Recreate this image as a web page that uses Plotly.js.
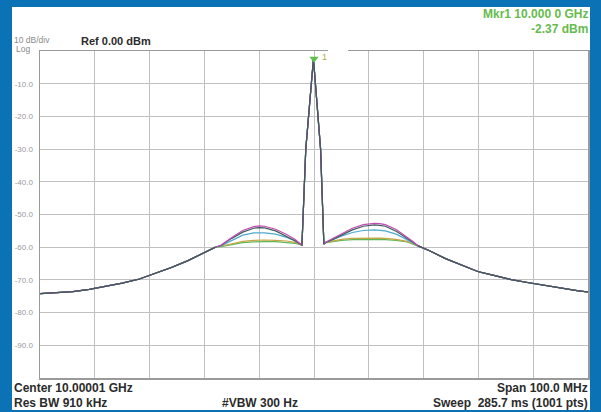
<!DOCTYPE html>
<html><head><meta charset="utf-8">
<script src="https://cdn.plot.ly/plotly-3.0.1.min.js"></script>
<style>html,body{margin:0;padding:0;background:#0b72b5;}</style>
</head><body><div id="chart" style="width:601px;height:412px;"></div>
<script>
// Frequency offsets from center (MHz)
const skirtLeftX  = [-50,-47,-44,-41,-38,-35,-32,-29,-26,-23,-20,-18];
const humpLeftX   = [-17,-15,-13,-11,-10,-9,-7,-5,-3.5,-2.5];
const peakX       = [-2.2,-1.5,-0.1,1.2,1.8];
const humpRightX  = [2.2,3.5,5,7,9,11,12,13,15,17,18];
const skirtRightX = [19,21,24,27,30,33,36,39,42,45,48,50];

// Levels (dBm)
const skirtLeftY  = [-74.2,-74.0,-73.6,-72.9,-72.0,-71.0,-69.8,-68.0,-66.2,-64.1,-61.6,-60.0];
const skirtRightY = [-59.6,-61.0,-63.5,-65.6,-67.5,-68.7,-69.9,-70.8,-71.7,-72.6,-73.3,-73.7];
const peakY       = [-59.4,-30.0,-2.37,-30.0,-59.0];

const grayLeft     = [-59.5,-57.3,-55.4,-54.2,-54.0,-54.1,-55.0,-56.6,-58.0,-59.1];
const magentaLeft  = [-59.4,-57.0,-54.9,-53.7,-53.5,-53.6,-54.5,-56.1,-57.6,-59.0];
const cyanLeft     = [-59.6,-57.9,-56.3,-55.6,-55.5,-55.6,-56.0,-57.0,-58.0,-59.1];
const orangeLeft   = [-59.7,-58.9,-58.2,-57.9,-57.8,-57.8,-57.9,-58.1,-58.5,-59.1];
const greenLeft    = [-59.8,-59.2,-58.6,-58.4,-58.3,-58.3,-58.3,-58.5,-58.8,-59.2];

const grayRight    = [-58.5,-57.6,-56.3,-54.7,-53.6,-53.2,-53.3,-53.6,-55.1,-57.2,-58.4];
const magentaRight = [-58.4,-57.3,-55.8,-54.2,-53.1,-52.7,-52.8,-53.1,-54.6,-56.9,-58.2];
const cyanRight    = [-58.5,-57.6,-56.6,-55.5,-54.9,-54.7,-54.8,-55.0,-56.0,-57.6,-58.6];
const orangeRight  = [-58.5,-58.0,-57.6,-57.3,-57.2,-57.2,-57.2,-57.3,-57.6,-58.2,-58.9];
const greenRight   = [-58.6,-58.2,-57.9,-57.7,-57.6,-57.6,-57.6,-57.7,-57.9,-58.4,-59.0];

const markerX = [0];
const markerY = [-2.37];

const yTickVals = [-10,-20,-30,-40,-50,-60,-70,-80,-90];
const yTickText = ['-10.0','-20.0','-30.0','-40.0','-50.0','-60.0','-70.0','-80.0','-90.0'];

const freq = [].concat(skirtLeftX, humpLeftX, peakX, humpRightX, skirtRightX);
function series(l, r){ return [].concat(skirtLeftY, l, peakY, r, skirtRightY); }

const defs = [
  {name:'green',   l:greenLeft,   r:greenRight,   c:'#5cb85a'},
  {name:'orange',  l:orangeLeft,  r:orangeRight,  c:'#c9a445'},
  {name:'cyan',    l:cyanLeft,    r:cyanRight,    c:'#4fa9cc'},
  {name:'gray',    l:grayLeft,    r:grayRight,    c:'#3f5b5e'},
  {name:'magenta', l:magentaLeft, r:magentaRight, c:'#c04cb0'}
];
const traces = defs.map(d => ({
  x: freq, y: series(d.l, d.r), type:'scatter', mode:'lines',
  line:{color:d.c, width:1.2}, hoverinfo:'skip', name:d.name
}));
// dark skirt trace redrawn on top for the shared outer sections
traces.push({x: skirtLeftX, y: skirtLeftY, type:'scatter', mode:'lines', line:{color:'#3f5b5e', width:1.3}, hoverinfo:'skip'});
traces.push({x: peakX, y: peakY, type:'scatter', mode:'lines', line:{color:'#3f5b5e', width:1.2}, hoverinfo:'skip'});
traces.push({x: skirtRightX, y: skirtRightY, type:'scatter', mode:'lines', line:{color:'#3f5b5e', width:1.3}, hoverinfo:'skip'});
traces.push({x:markerX, y:markerY, type:'scatter', mode:'markers',
  marker:{symbol:'triangle-down', size:8, color:'#5cc04a'}, cliponaxis:false, hoverinfo:'skip'});

const L=40, R=588, T=51, B=378;
const px = x => (x-L)/(R-L);
const py = y => (B-y)/(B-T);

function ann(text, x, y, anchor, size, color, bold){
  return {text:text, xref:'paper', yref:'paper', x:px(x), y:py(y), xanchor:anchor, yanchor:'middle',
    showarrow:false, borderpad:0,
    font:{family:'Liberation Sans, Arial, sans-serif', size:size, color:color, weight: bold?'bold':'normal'}};
}
const green='#66bb4e', dark='#2b2b2b';
const annotations = [
  ann('10 dB/div', 13, 40, 'left', 8.5, '#8a8a8a', false),
  ann('Log', 15, 49, 'left', 8.5, '#8a8a8a', false),
  ann('Ref 0.00 dBm', 80, 41, 'left', 11, dark, true),
  ann('Mkr1 10.000 0 GHz', 589, 14, 'right', 12, green, true),
  ann('-2.37 dBm', 589, 29, 'right', 12, green, true),
  ann('Center 10.00001 GHz', 13, 388, 'left', 12, dark, true),
  ann('Res BW 910 kHz', 13, 403, 'left', 12, dark, true),
  ann('#VBW 300 Hz', 221, 403, 'left', 12, dark, true),
  ann('Span 100.0 MHz', 589, 388, 'right', 12, dark, true),
  ann('Sweep \u00a0285.7 ms (1001 pts)', 589, 403, 'right', 12, dark, true),
  {text:'1', xref:'x', yref:'y', x:markerX[0], y:markerY[0], xshift:10, yshift:2, showarrow:false,
   font:{family:'Liberation Sans, Arial, sans-serif', size:9, color:'#b3a83a'}}
];

const shapes = [
  {type:'rect', xref:'paper', yref:'paper', x0:px(12), x1:px(590), y0:py(410), y1:py(7),
   fillcolor:'#ffffff', line:{width:0}, layer:'below'},
  {type:'rect', xref:'paper', yref:'paper', x0:px(328), x1:px(348), y0:py(53), y1:py(49),
   fillcolor:'#ffffff', line:{width:0}, layer:'above'}
];

const layout = {
  width:601, height:412,
  margin:{l:L, r:601-R, t:T, b:412-B, pad:0},
  paper_bgcolor:'#0b72b5', plot_bgcolor:'#ffffff',
  showlegend:false,
  xaxis:{range:[-50,50], dtick:10, tick0:0, showticklabels:false, ticks:'',
    showgrid:true, gridcolor:'#c0c0c0', gridwidth:1, zeroline:false,
    showline:true, mirror:true, linecolor:'#9a9a9a', linewidth:1.5, fixedrange:true},
  yaxis:{range:[-100,0], tickvals:yTickVals, ticktext:yTickText, ticks:'',
    showgrid:true, gridcolor:'#c0c0c0', gridwidth:1, zeroline:false,
    showline:true, mirror:true, linecolor:'#9a9a9a', linewidth:1.5,
    tickfont:{family:'Liberation Sans, Arial, sans-serif', size:8, color:'#9a9a9a'},
    ticklabelstandoff:4, fixedrange:true},
  annotations:annotations, shapes:shapes
};

Plotly.newPlot('chart', traces, layout, {staticPlot:true, displayModeBar:false});
</script></body></html>
